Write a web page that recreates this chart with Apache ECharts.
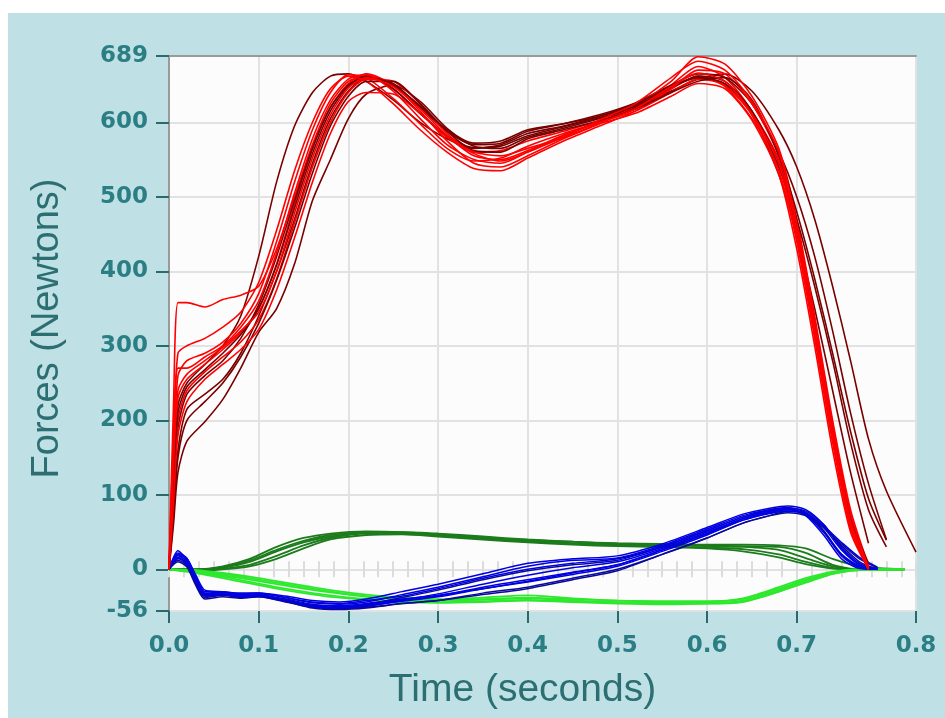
<!DOCTYPE html>
<html><head><meta charset="utf-8">
<script src="https://cdn.jsdelivr.net/npm/echarts@6/dist/echarts.min.js"></script>
<style>
html,body{margin:0;padding:0;background:#fff;width:945px;height:718px;overflow:hidden}
#bg{position:absolute;left:8px;top:13px;right:0;bottom:0;background:#bfe0e4}
#chart{position:absolute;left:0;top:0;width:945px;height:718px}
</style></head><body><div id="bg"></div><div id="chart"></div>
<script>
// ---- axis ticks ----
const xTickValues = [0, 0.1, 0.2, 0.3, 0.4, 0.5, 0.6, 0.7, 0.833];
const xTickLabels = ['0.0', '0.1', '0.2', '0.3', '0.4', '0.5', '0.6', '0.7', '0.8'];
const yTickValues = [-56, 0, 100, 200, 300, 400, 500, 600, 689];
const xMin = 0, xMax = 0.833, yMin = -56, yMax = 689;

// ---- time samples (seconds) ----
const timeRed = [0, 0.005, 0.01, 0.02, 0.04, 0.06, 0.08, 0.1, 0.12, 0.14, 0.16, 0.18, 0.2, 0.22, 0.25, 0.28, 0.31, 0.34, 0.37, 0.4, 0.44, 0.48, 0.52, 0.56, 0.59, 0.62, 0.65, 0.68, 0.7, 0.72, 0.74, 0.76, 0.78, 0.8, 0.833];
const timeBlue = [0, 0.01, 0.02, 0.03, 0.04, 0.06, 0.08, 0.1, 0.13, 0.16, 0.19, 0.22, 0.26, 0.3, 0.35, 0.4, 0.45, 0.5, 0.55, 0.6, 0.64, 0.67, 0.69, 0.71, 0.73, 0.75, 0.77, 0.79];
const timeGreen = [0, 0.03, 0.06, 0.09, 0.12, 0.15, 0.18, 0.22, 0.26, 0.3, 0.35, 0.4, 0.45, 0.5, 0.55, 0.6, 0.64, 0.68, 0.71, 0.74, 0.77, 0.82];

// ---- vertical force traces (bright red) ----
const redBright = [
  [0,220,358,358,352,362,368,380,430,500,570,625,655,662,645,612,580,560,562,575,588,602,620,645,662,648,605,540,450,320,180,60,0],
  [0,150,260,280,290,305,330,370,440,520,590,640,664,660,632,598,565,548,552,568,585,600,618,650,675,660,615,550,460,330,190,70,0],
  [0,120,230,255,275,295,318,350,410,490,565,620,652,665,650,615,575,545,540,555,578,598,622,655,688,678,635,565,470,340,200,80,5],
  [0,100,200,240,265,285,305,335,390,465,540,600,640,658,655,625,585,558,548,560,582,600,615,640,658,650,610,535,440,310,170,55,0],
  [0,180,290,300,310,325,345,385,455,535,600,645,662,655,625,590,560,538,535,552,575,595,615,645,670,665,625,555,455,325,185,65,0],
  [0,90,180,225,255,275,295,322,375,445,520,585,628,640,638,612,580,560,555,565,580,598,612,635,652,645,603,530,430,300,160,50,0],
  [0,160,270,270,285,300,325,360,425,505,578,630,658,664,642,605,570,550,545,560,580,603,625,660,682,670,628,560,465,335,195,75,3],
  [0,140,240,262,280,298,320,345,400,478,552,610,646,660,648,618,582,555,550,562,583,600,618,648,666,655,612,545,445,315,175,58,0]
];
// ---- vertical force traces (dark red) ----
const redDark = [
  [0,120,220,250,275,300,340,420,520,595,640,662,665,655,630,600,578,565,570,585,595,608,625,648,660,650,610,530,450,350,240,130,35],
  [0,60,130,172,198,228,270,318,350,410,495,550,605,638,650,628,592,568,565,580,592,605,620,642,658,665,642,590,540,470,380,280,175,105,23],
  [0,80,160,215,235,255,290,340,400,470,545,605,642,660,652,620,588,570,572,588,598,610,626,650,665,660,625,560,500,420,320,210,115,40],
  [0,100,190,235,260,280,310,355,420,495,565,620,650,662,645,612,582,566,568,582,594,606,622,646,662,655,615,540,470,380,280,170,80,30],
  [0,110,210,245,268,290,315,350,408,485,558,615,648,662,650,622,590,572,575,590,598,608,624,648,660,652,615,545,455,330,190,70,8],
  [0,70,150,200,225,250,285,330,388,458,532,595,635,655,655,625,588,562,560,578,590,602,618,640,655,660,630,555,480,390,290,185,95,39]
];
// ---- blue traces ----
const blueTraces = [
  [0,22,15,-10,-30,-30,-33,-32,-36,-42,-44,-40,-30,-20,-6,8,14,18,34,56,74,82,85,80,60,28,6,0],
  [0,18,10,-14,-34,-33,-37,-35,-40,-47,-50,-47,-38,-28,-14,-2,6,12,30,52,70,80,83,76,52,20,3,0],
  [0,15,8,-18,-36,-34,-36,-34,-42,-50,-52,-50,-42,-36,-24,-14,-4,6,26,48,68,78,82,78,60,30,8,0],
  [0,25,12,-12,-32,-31,-35,-36,-42,-48,-49,-46,-40,-35,-26,-17,-7,4,24,46,66,76,80,74,50,18,2,0],
  [0,12,5,-20,-38,-35,-38,-37,-43,-52,-54,-52,-46,-42,-34,-26,-14,-2,20,42,62,72,78,76,58,32,10,0],
  [0,20,10,-15,-33,-31,-34,-33,-38,-45,-47,-44,-34,-24,-10,4,12,15,32,54,72,80,82,72,46,14,1,0],
  [0,16,6,-16,-35,-33,-36,-35,-41,-49,-51,-48,-41,-33,-20,-8,2,10,28,50,68,77,80,75,56,26,6,0],
  [0,10,3,-22,-40,-37,-39,-37,-44,-51,-53,-51,-46,-42,-32,-24,-12,0,20,42,62,72,76,72,56,34,14,2],
  [0,20,14,-8,-28,-30,-32,-32,-38,-44,-46,-42,-36,-26,-12,0,8,14,30,52,70,79,81,73,50,20,4,0],
  [0,14,8,-16,-36,-34,-37,-36,-42,-50,-52,-49,-43,-37,-26,-16,-5,6,26,48,66,75,78,74,58,36,16,3]
];
// ---- dark green traces ----
const greenDark = [
  [0,0,4,14,30,42,48,51,50,47,43,39,37,34,33,32,31,30,22,6,0,0],
  [0,0,2,10,24,36,44,49,49,46,42,38,35,33,32,31,30,26,15,4,0,0],
  [0,0,1,6,18,32,42,48,48,45,41,37,34,32,30,29,27,20,10,2,0,0],
  [0,-2,0,4,14,28,40,46,47,44,40,36,33,31,30,28,24,16,7,1,0,0],
  [0,0,3,12,26,38,46,50,50,48,44,40,37,35,34,33,33,32,28,14,4,0]
];
// ---- light green traces ----
const greenLight = [
  [0,-3,-8,-14,-20,-26,-31,-37,-40,-41,-40,-38,-40,-42,-43,-43,-40,-26,-14,-4,0,0],
  [0,-2,-6,-12,-18,-24,-30,-36,-40,-42,-41,-39,-42,-44,-45,-45,-42,-28,-15,-5,0,0],
  [0,-4,-10,-17,-24,-30,-35,-40,-43,-44,-43,-41,-43,-45,-46,-46,-44,-30,-17,-6,-1,0],
  [0,-1,-5,-10,-16,-22,-28,-34,-38,-40,-38,-35,-39,-42,-43,-43,-39,-24,-12,-3,0,0],
  [0,-5,-12,-19,-26,-32,-37,-41,-44,-45,-44,-42,-44,-46,-47,-46,-43,-30,-18,-6,-1,0]
];

const TEAL = '#2a7e84';
function mk(times, vals, color, width, z) {
  return {
    type: 'line', xAxisIndex: 0, yAxisIndex: 0,
    data: vals.map((v, i) => [times[i], v]),
    showSymbol: false, symbol: 'none', smooth: 0.25,
    lineStyle: { color: color, width: width }, z: z,
    silent: true, animation: false
  };
}
const series = [];
greenDark.forEach(v => series.push(mk(timeGreen, v, '#1c7c1c', 1.8, 2)));
greenLight.forEach(v => series.push(mk(timeGreen, v, '#2ee82e', 1.8, 2)));
blueTraces.forEach((v, i) => series.push(mk(timeBlue, v, i % 3 === 1 ? '#0a0a9a' : '#0000e0', 1.5, 3)));
for (let i = 0; i < Math.max(redBright.length, redDark.length); i++) {
  if (redDark[i]) series.push(mk(timeRed, redDark[i], '#7a0000', 1.6, 4));
  if (redBright[i]) series.push(mk(timeRed, redBright[i], '#ff0000', 1.6, 4));
}

const chart = echarts.init(document.getElementById('chart'), null, { renderer: 'canvas' });
const minorAxis = (inside) => ({
  type: 'value', min: xMin, max: xMax, interval: 0.1 / 6, position: 'bottom',
  axisLine: { show: false, onZero: true, onZeroAxisIndex: 0 },
  axisTick: { show: true, inside: inside, length: 8, lineStyle: { color: '#dcdcdc', width: 2 } },
  axisLabel: { show: false }, splitLine: { show: false }
});
chart.setOption({
  animation: false,
  backgroundColor: 'transparent',
  grid: { left: 169, top: 56, width: 747, height: 555, show: true, backgroundColor: '#fcfcfc', borderWidth: 0 },
  xAxis: [
    {
      type: 'value', min: xMin, max: xMax, interval: 0.1, position: 'bottom',
      name: 'Time (seconds)', nameLocation: 'middle', nameGap: 60,
      nameTextStyle: { fontFamily: 'Liberation Sans', fontSize: 39, color: '#2b6f73', padding: [0, 40, 0, 0] },
      axisLine: { show: false, onZero: false },
      axisTick: { show: true, customValues: xTickValues, length: 12, lineStyle: { color: '#2a6a6c', width: 2 } },
      axisLabel: {
        customValues: xTickValues, margin: 24,
        fontFamily: 'DejaVu Sans', fontWeight: 'bold', fontSize: 23, color: TEAL,
        formatter: (val) => {
          const i = xTickValues.findIndex(v => Math.abs(v - val) < 1e-6);
          return i >= 0 ? xTickLabels[i] : '';
        }
      },
      splitLine: { show: true, lineStyle: { color: '#e2e2e2', width: 2 } }
    },
    minorAxis(true),
    minorAxis(false),
    {
      type: 'value', min: xMin, max: xMax, position: 'top',
      axisLine: { show: true, onZero: false, lineStyle: { color: '#9a9a9a', width: 2 } },
      axisTick: { show: false }, axisLabel: { show: false }, splitLine: { show: false }
    }
  ],
  yAxis: [{
    type: 'value', min: yMin, max: yMax, splitNumber: 7,
    name: 'Forces (Newtons)', nameLocation: 'middle', nameGap: 102,
    nameTextStyle: { fontFamily: 'Liberation Sans', fontSize: 38, color: '#2b6f73', padding: [0, 0, 0, 10] },
    axisLine: { show: true, onZero: false, lineStyle: { color: '#9a9a9a', width: 2 } },
    axisTick: { show: true, customValues: yTickValues, length: 13, lineStyle: { color: '#2a6a6c', width: 2 } },
    axisLabel: {
      customValues: yTickValues, margin: 21,
      fontFamily: 'DejaVu Sans', fontWeight: 'bold', fontSize: 23, color: TEAL,
      formatter: (val) => String(Math.round(val))
    },
    splitLine: { show: true, lineStyle: { color: '#e2e2e2', width: 2 } }
  }],
  series: series
});
</script></body></html>
